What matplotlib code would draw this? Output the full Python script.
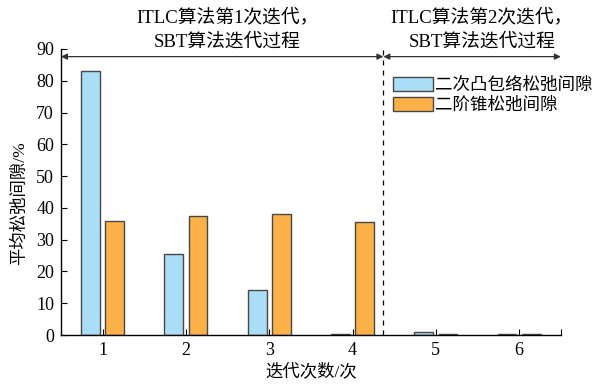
"""Average relaxation gap per iteration for the two relaxations."""

import matplotlib

matplotlib.use("Agg")
import matplotlib.pyplot as plt
import numpy as np

ITERATIONS = [1, 2, 3, 4, 5, 6]
QUAD_HULL_GAP = [83.0, 25.5, 14.3, 0.3, 0.8, 0.3]
SOC_GAP = [35.8, 37.4, 38.0, 35.5, 0.3, 0.3]
SERIES_LABELS = ["二次凸包络松弛间隙", "二阶锥松弛间隙"]
Y_TICKS = list(range(0, 100, 10))
STAGE_SPLIT = 4.37
STAGE_TEXT = ["ITLC算法第1次迭代，\nSBT算法迭代过程", "ITLC算法第2次迭代，\nSBT算法迭代过程"]

FONT = ["Liberation Serif", "Noto Sans CJK SC", "DejaVu Sans"]
BLUE = "#a9def6"
ORANGE = "#fbb147"
EDGE = "#474747"


def setup_plt() -> None:
    """Configure matplotlib formatting."""
    plt.rcParams["font.family"] = FONT
    plt.rcParams["axes.linewidth"] = 1.0
    plt.rcParams["xtick.direction"] = "in"
    plt.rcParams["ytick.direction"] = "in"


def main() -> None:
    setup_plt()
    fig = plt.figure(figsize=(5.96, 3.84), dpi=100)
    ax = fig.add_axes([0.1023, 0.1276, 0.8387, 0.7448])

    x = np.array(ITERATIONS, dtype=float)
    width = 0.225
    ax.bar(x - 0.145, QUAD_HULL_GAP, width, color=BLUE, edgecolor=EDGE,
           linewidth=1.0, label=SERIES_LABELS[0])
    ax.bar(x + 0.145, SOC_GAP, width, color=ORANGE, edgecolor=EDGE,
           linewidth=1.0, label=SERIES_LABELS[1])

    ax.set_xlim(0.5, 6.5)
    ax.set_ylim(0, 90)
    ax.set_xticks(ITERATIONS + [6.5])
    ax.set_xticklabels([str(i) for i in ITERATIONS] + [""])
    ax.set_yticks(Y_TICKS)
    ax.tick_params(labelsize=13, length=4, width=0.8, pad=5)
    for side in ("top", "right"):
        ax.spines[side].set_visible(False)

    # stage separator and span arrows
    ax.axvline(STAGE_SPLIT, color="black", linestyle=(0, (4, 4)), linewidth=0.9)
    arrow_y = 87.6
    arrow = dict(arrowstyle="<|-|>", color="#333333", lw=0.9,
                 mutation_scale=9, shrinkA=0, shrinkB=0)
    ax.annotate("", xy=(0.5, arrow_y), xytext=(STAGE_SPLIT, arrow_y),
                arrowprops=arrow, annotation_clip=False)
    ax.annotate("", xy=(STAGE_SPLIT, arrow_y), xytext=(6.5, arrow_y),
                arrowprops=arrow, annotation_clip=False)
    ax.text(2.5, 89.6, STAGE_TEXT[0], ha="center", va="bottom", fontsize=13.5,
            linespacing=1.4)
    ax.text(5.55, 89.6, STAGE_TEXT[1], ha="center", va="bottom", fontsize=13.5,
            linespacing=1.4)

    ax.set_xlabel("迭代次数/次", fontsize=12.5, labelpad=3)
    ax.set_ylabel("平均松弛间隙/%", fontsize=12.5)
    ax.yaxis.set_label_coords(-0.066, 0.46)

    ax.legend(loc="upper left", bbox_to_anchor=(0.65, 0.926), frameon=False,
              fontsize=12.6, handlelength=2.3, handleheight=0.8,
              handletextpad=0.1, labelspacing=0.2, borderaxespad=0)

    fig.savefig("out.png", dpi=100)


if __name__ == "__main__":
    main()
